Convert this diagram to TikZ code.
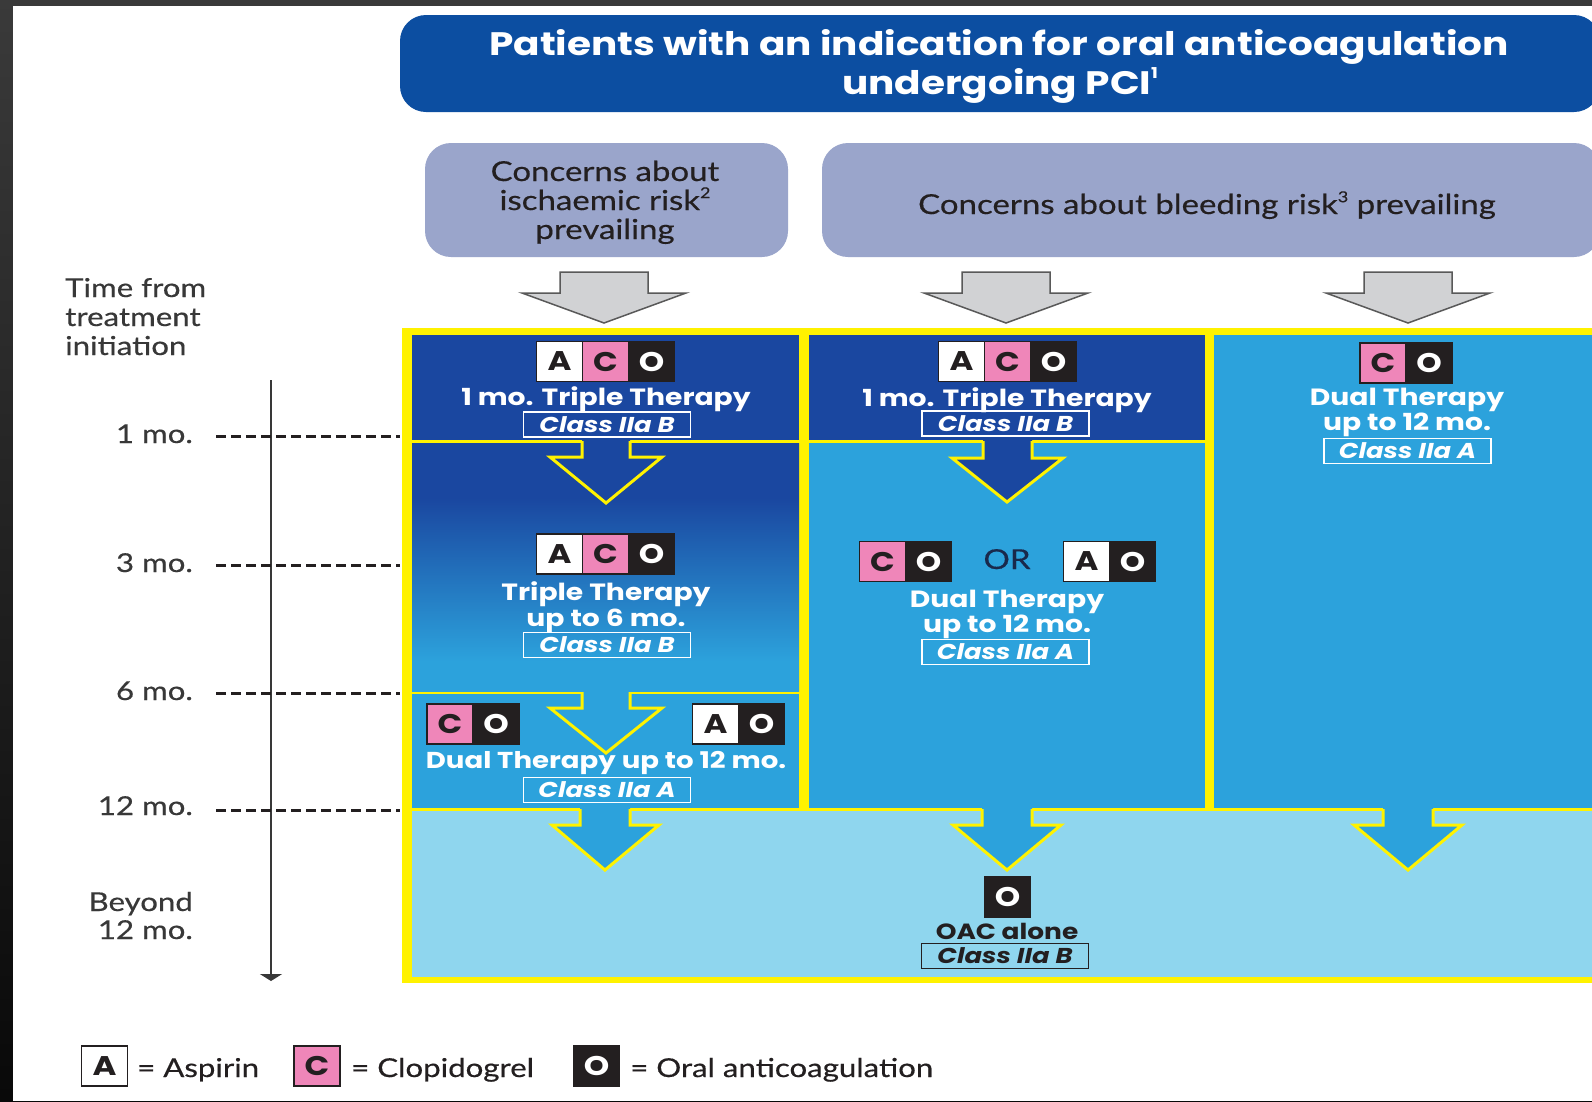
\documentclass[tikz,border=0pt]{standalone}
\usepackage{fontspec}
\setmainfont{Lato}[FakeStretch=1.2,FakeBold=0.4]
\newfontfamily\heavyfont{Poppins}[FakeStretch=1.2]
\usetikzlibrary{arrows.meta}

\newlength{\du}
\setlength{\du}{1pt}

\definecolor{edgedark}{rgb}{0.227000, 0.227000, 0.227000}
\definecolor{edgeblack}{rgb}{0.035000, 0.035000, 0.035000}
\definecolor{headblue}{rgb}{0.047000, 0.306000, 0.631000}
\definecolor{lilac}{rgb}{0.604000, 0.647000, 0.796000}
\definecolor{greyfill}{rgb}{0.820000, 0.824000, 0.831000}
\definecolor{greyline}{rgb}{0.350000, 0.350000, 0.350000}
\definecolor{frameyellow}{rgb}{1.000000, 0.949000, 0.000000}
\definecolor{deepblue}{rgb}{0.102000, 0.278000, 0.627000}
\definecolor{midblue}{rgb}{0.173000, 0.635000, 0.863000}
\definecolor{paleblue}{rgb}{0.561000, 0.839000, 0.933000}
\definecolor{drugpink}{rgb}{0.937000, 0.525000, 0.725000}
\definecolor{inkblack}{rgb}{0.137000, 0.122000, 0.125000}
\definecolor{labelgrey}{rgb}{0.220000, 0.220000, 0.220000}
\definecolor{ornavy}{rgb}{0.100000, 0.160000, 0.300000}

% small raised reference number
\newcommand{\fnmark}[1]{\raisebox{0.85ex}{\fontsize{15}{15}\selectfont #1}}

% 1-6 mo. cell: dark at the top, light at the bottom
\pgfdeclareverticalshading{monthshade}{100bp}{color(0bp)=(midblue); color(31bp)=(midblue); color(64bp)=(deepblue); color(100bp)=(deepblue)}

\tikzset{
  headline/.style={anchor=base, inner sep=0pt, text=white, font=\heavyfont\bfseries\fontsize{32.5}{32.5}\selectfont},
  concern/.style={anchor=base, inner sep=0pt, text=inkblack, font=\fontsize{27.5}{27.5}\selectfont},
  greyblock/.style={fill=greyfill, draw=greyline, line width=1.5\du, line join=miter},
  celledge/.style={draw=frameyellow, line width=3\du, line join=miter},
  drug/.style={draw=inkblack, line width=1.5\du, minimum width=46\du, minimum height=40\du, inner sep=0pt, font=\heavyfont\bfseries\fontsize{27}{27}\selectfont},
  drugA/.style={drug, fill=white, text=inkblack},
  drugC/.style={drug, fill=drugpink, text=inkblack},
  drugO/.style={drug, fill=inkblack, text=white},
  therapy/.style={anchor=base, inner sep=0pt, text=white, font=\heavyfont\bfseries\fontsize{23.5}{23.5}\selectfont},
  classbox/.style={draw=white, line width=1.5\du, minimum width=167\du, minimum height=25\du, inner sep=0pt, text=white, font=\heavyfont\bfseries\itshape\fontsize{21.5}{21.5}\selectfont},
  timelabel/.style={inner sep=0pt, text=labelgrey, font=\fontsize{26}{26}\selectfont},
  monthtick/.style={draw=inkblack, line width=3\du, dash pattern=on 10\du off 5\du},
  timeaxis/.style={draw=labelgrey, line width=2\du, -{Triangle[width=22pt,length=7pt]}},
  legendtext/.style={anchor=base west, inner sep=0pt, text=inkblack, font=\fontsize{26}{26}\selectfont}
}

\begin{document}
\begin{tikzpicture}[x=1\du,y=-1\du]
\useasboundingbox (0,0) rectangle (1592,1101);
\clip (0,0) rectangle (1592,1101);
% page edge
\fill[top color=edgedark, bottom color=edgeblack] (0,0) rectangle (1592,1101);
\fill[white] (13,6) rectangle (1592,1101);

% title bar
\fill[headblue, rounded corners=26\du] (400,15) rectangle (1600,112);
\node[headline] (head1) at (999,55) {Patients with an indication for oral anticoagulation};
\node[headline] (head2) at (1000,94) {undergoing PCI\fnmark{1}};

% risk boxes
\fill[lilac, rounded corners=26\du] (425,143) rectangle (788,257);
\fill[lilac, rounded corners=26\du] (822,143) rectangle (1600,257);
\node[concern] (isch1) at (605,181) {Concerns about};
\node[concern] (isch2) at (605,210) {ischaemic risk\fnmark{2}};
\node[concern] (isch3) at (605,239) {prevailing};
\node[concern] (bleed) at (1207,214) {Concerns about bleeding risk\fnmark{3} prevailing};

% grey arrows
\draw[greyblock] (560,272)--(560,293)--(522,293)--(604,323)--(686,293)--(648,293)--(648,272)--cycle;
\draw[greyblock] (962,272)--(962,293)--(924,293)--(1006,323)--(1088,293)--(1050,293)--(1050,272)--cycle;
\draw[greyblock] (1364,272)--(1364,293)--(1326,293)--(1408,323)--(1490,293)--(1452,293)--(1452,272)--cycle;

% yellow frame and cells
\fill[frameyellow] (402,328) rectangle (1600,983);
\fill[deepblue] (412,335) rectangle (799,440);
\shade[shading=monthshade] (412,443) rectangle (799,691);
\fill[midblue] (412,694) rectangle (799,808);
\fill[deepblue] (809,335) rectangle (1205,440);
\fill[midblue] (809,443) rectangle (1205,808);
\fill[midblue] (1214,335) rectangle (1600,808);
\fill[paleblue] (412,811) rectangle (1600,977);

% arrows inside the frame
\fill[deepblue] (582,439)--(582,457)--(550,457)--(606,503)--(662,457)--(630,457)--(630,439)--cycle;
\draw[celledge] (582,441)--(582,457)--(550,457)--(606,503)--(662,457)--(630,457)--(630,441);
\fill[deepblue] (983,439)--(983,458)--(952,458)--(1007,502)--(1063,458)--(1032,458)--(1032,439)--cycle;
\draw[celledge] (983,441)--(983,458)--(952,458)--(1007,502)--(1063,458)--(1032,458)--(1032,441);
\fill[midblue] (582,690)--(582,708)--(550,708)--(606,753)--(662,708)--(630,708)--(630,690)--cycle;
\draw[celledge] (582,692)--(582,708)--(550,708)--(606,753)--(662,708)--(630,708)--(630,692);
\fill[midblue] (580,807)--(580,825)--(552,825)--(605,870)--(659,825)--(630,825)--(630,807)--cycle;
\draw[celledge] (580,809)--(580,825)--(552,825)--(605,870)--(659,825)--(630,825)--(630,809);
\fill[midblue] (982,807)--(982,825)--(953,825)--(1007,870)--(1061,825)--(1032,825)--(1032,807)--cycle;
\draw[celledge] (982,809)--(982,825)--(953,825)--(1007,870)--(1061,825)--(1032,825)--(1032,809);
\fill[midblue] (1383,807)--(1383,825)--(1354,825)--(1408,870)--(1462,825)--(1433,825)--(1433,807)--cycle;
\draw[celledge] (1383,809)--(1383,825)--(1354,825)--(1408,870)--(1462,825)--(1433,825)--(1433,809);

% ischaemic column
\node[drugA] (triA) at (559.5,361.5) {A};
\node[drugC] (triC) at (605.5,361.5) {C};
\node[drugO] (triO) at (651.5,361.5) {O};
\node[therapy] (tri1) at (606,405) {1 mo. Triple Therapy};
\node[classbox] (triclass) at (607,424.5) {Class IIa B};
\node[drugA] (sixA) at (559.5,554) {A};
\node[drugC] (sixC) at (605.5,554) {C};
\node[drugO] (sixO) at (651.5,554) {O};
\node[therapy] (six1) at (606,600) {Triple Therapy};
\node[therapy] (six2) at (606,626) {up to 6 mo.};
\node[classbox] (sixclass) at (607,645) {Class IIa B};
\node[drugC] (twC) at (450,724) {C};
\node[drugO] (twO) at (496,724) {O};
\node[drugA] (twA) at (715.5,724) {A};
\node[drugO] (twAO) at (761.5,724) {O};
\node[therapy, font=\heavyfont\bfseries\fontsize{23}{23}\selectfont] (tw1) at (606,768) {Dual Therapy up to 12 mo.};
\node[classbox] (twclass) at (607,790) {Class IIa A};

% bleeding column, triple first
\node[drugA] (bA) at (961.5,361.5) {A};
\node[drugC] (bC) at (1007.5,361.5) {C};
\node[drugO] (bO) at (1053.5,361.5) {O};
\node[therapy] (b1) at (1007,406) {1 mo. Triple Therapy};
\node[classbox] (bclass) at (1005.5,423.5) {Class IIa B};
\node[drugC] (bdC) at (882.5,561.5) {C};
\node[drugO] (bdO) at (928.5,561.5) {O};
\node[concern, text=ornavy] (bor) at (1007,569) {OR};
\node[drugA] (bdA) at (1086.5,561.5) {A};
\node[drugO] (bdAO) at (1132.5,561.5) {O};
\node[therapy] (bd1) at (1007,607) {Dual Therapy};
\node[therapy] (bd2) at (1007,632) {up to 12 mo.};
\node[classbox] (bdclass) at (1005.5,652) {Class IIa A};

% bleeding column, dual only
\node[drugC] (dC) at (1383,363) {C};
\node[drugO] (dO) at (1429,363) {O};
\node[therapy] (d1) at (1407,405) {Dual Therapy};
\node[therapy] (d2) at (1407,430) {up to 12 mo.};
\node[classbox] (dclass) at (1407.5,451) {Class IIa A};

% beyond 12 months
\node[drugO] (oacO) at (1007.5,897) {O};
\node[therapy, text=inkblack, font=\heavyfont\bfseries\fontsize{22}{22}\selectfont] (oac) at (1007,939) {OAC alone};
\node[classbox, draw=inkblack, text=inkblack] (oacclass) at (1005,956) {Class IIa B};

% time line
\node[timelabel, anchor=base west] (time1) at (65,297) {Time from};
\node[timelabel, anchor=base west] (time2) at (65,326) {treatment};
\node[timelabel, anchor=base west] (time3) at (65,355) {initiation};
\coordinate (axis top) at (271,380);
\coordinate (axis end) at (271,981);
\draw[timeaxis] (axis top) -- (axis end);
\node[timelabel, anchor=base east] (mo1) at (193,443) {1 mo.};
\node[timelabel, anchor=base east] (mo3) at (193,572) {3 mo.};
\node[timelabel, anchor=base east] (mo6) at (193,700) {6 mo.};
\node[timelabel, anchor=base east] (mo12) at (193,815) {12 mo.};
\node[timelabel, anchor=base east] (beyond1) at (193,911) {Beyond};
\node[timelabel, anchor=base east] (beyond2) at (193,939) {12 mo.};
\coordinate (tick1 a) at (216,436);
\coordinate (tick1 b) at (400,436);
\coordinate (tick3 a) at (216,565);
\coordinate (tick3 b) at (400,565);
\coordinate (tick6 a) at (216,693);
\coordinate (tick6 b) at (400,693);
\coordinate (tick12 a) at (216,810);
\coordinate (tick12 b) at (400,810);
\draw[monthtick] (tick1 a) -- (tick1 b);
\draw[monthtick] (tick3 a) -- (tick3 b);
\draw[monthtick] (tick6 a) -- (tick6 b);
\draw[monthtick] (tick12 a) -- (tick12 b);

% key
\node[drugA] (keyA) at (104.5,1066) {A};
\node[legendtext] (keyAtext) at (137,1077) {= Aspirin};
\node[drugC] (keyC) at (317,1066) {C};
\node[legendtext] (keyCtext) at (351,1077) {= Clopidogrel};
\node[drugO] (keyO) at (596.5,1066) {O};
\node[legendtext] (keyOtext) at (630,1077) {= Oral anticoagulation};
\end{tikzpicture}
\end{document}
